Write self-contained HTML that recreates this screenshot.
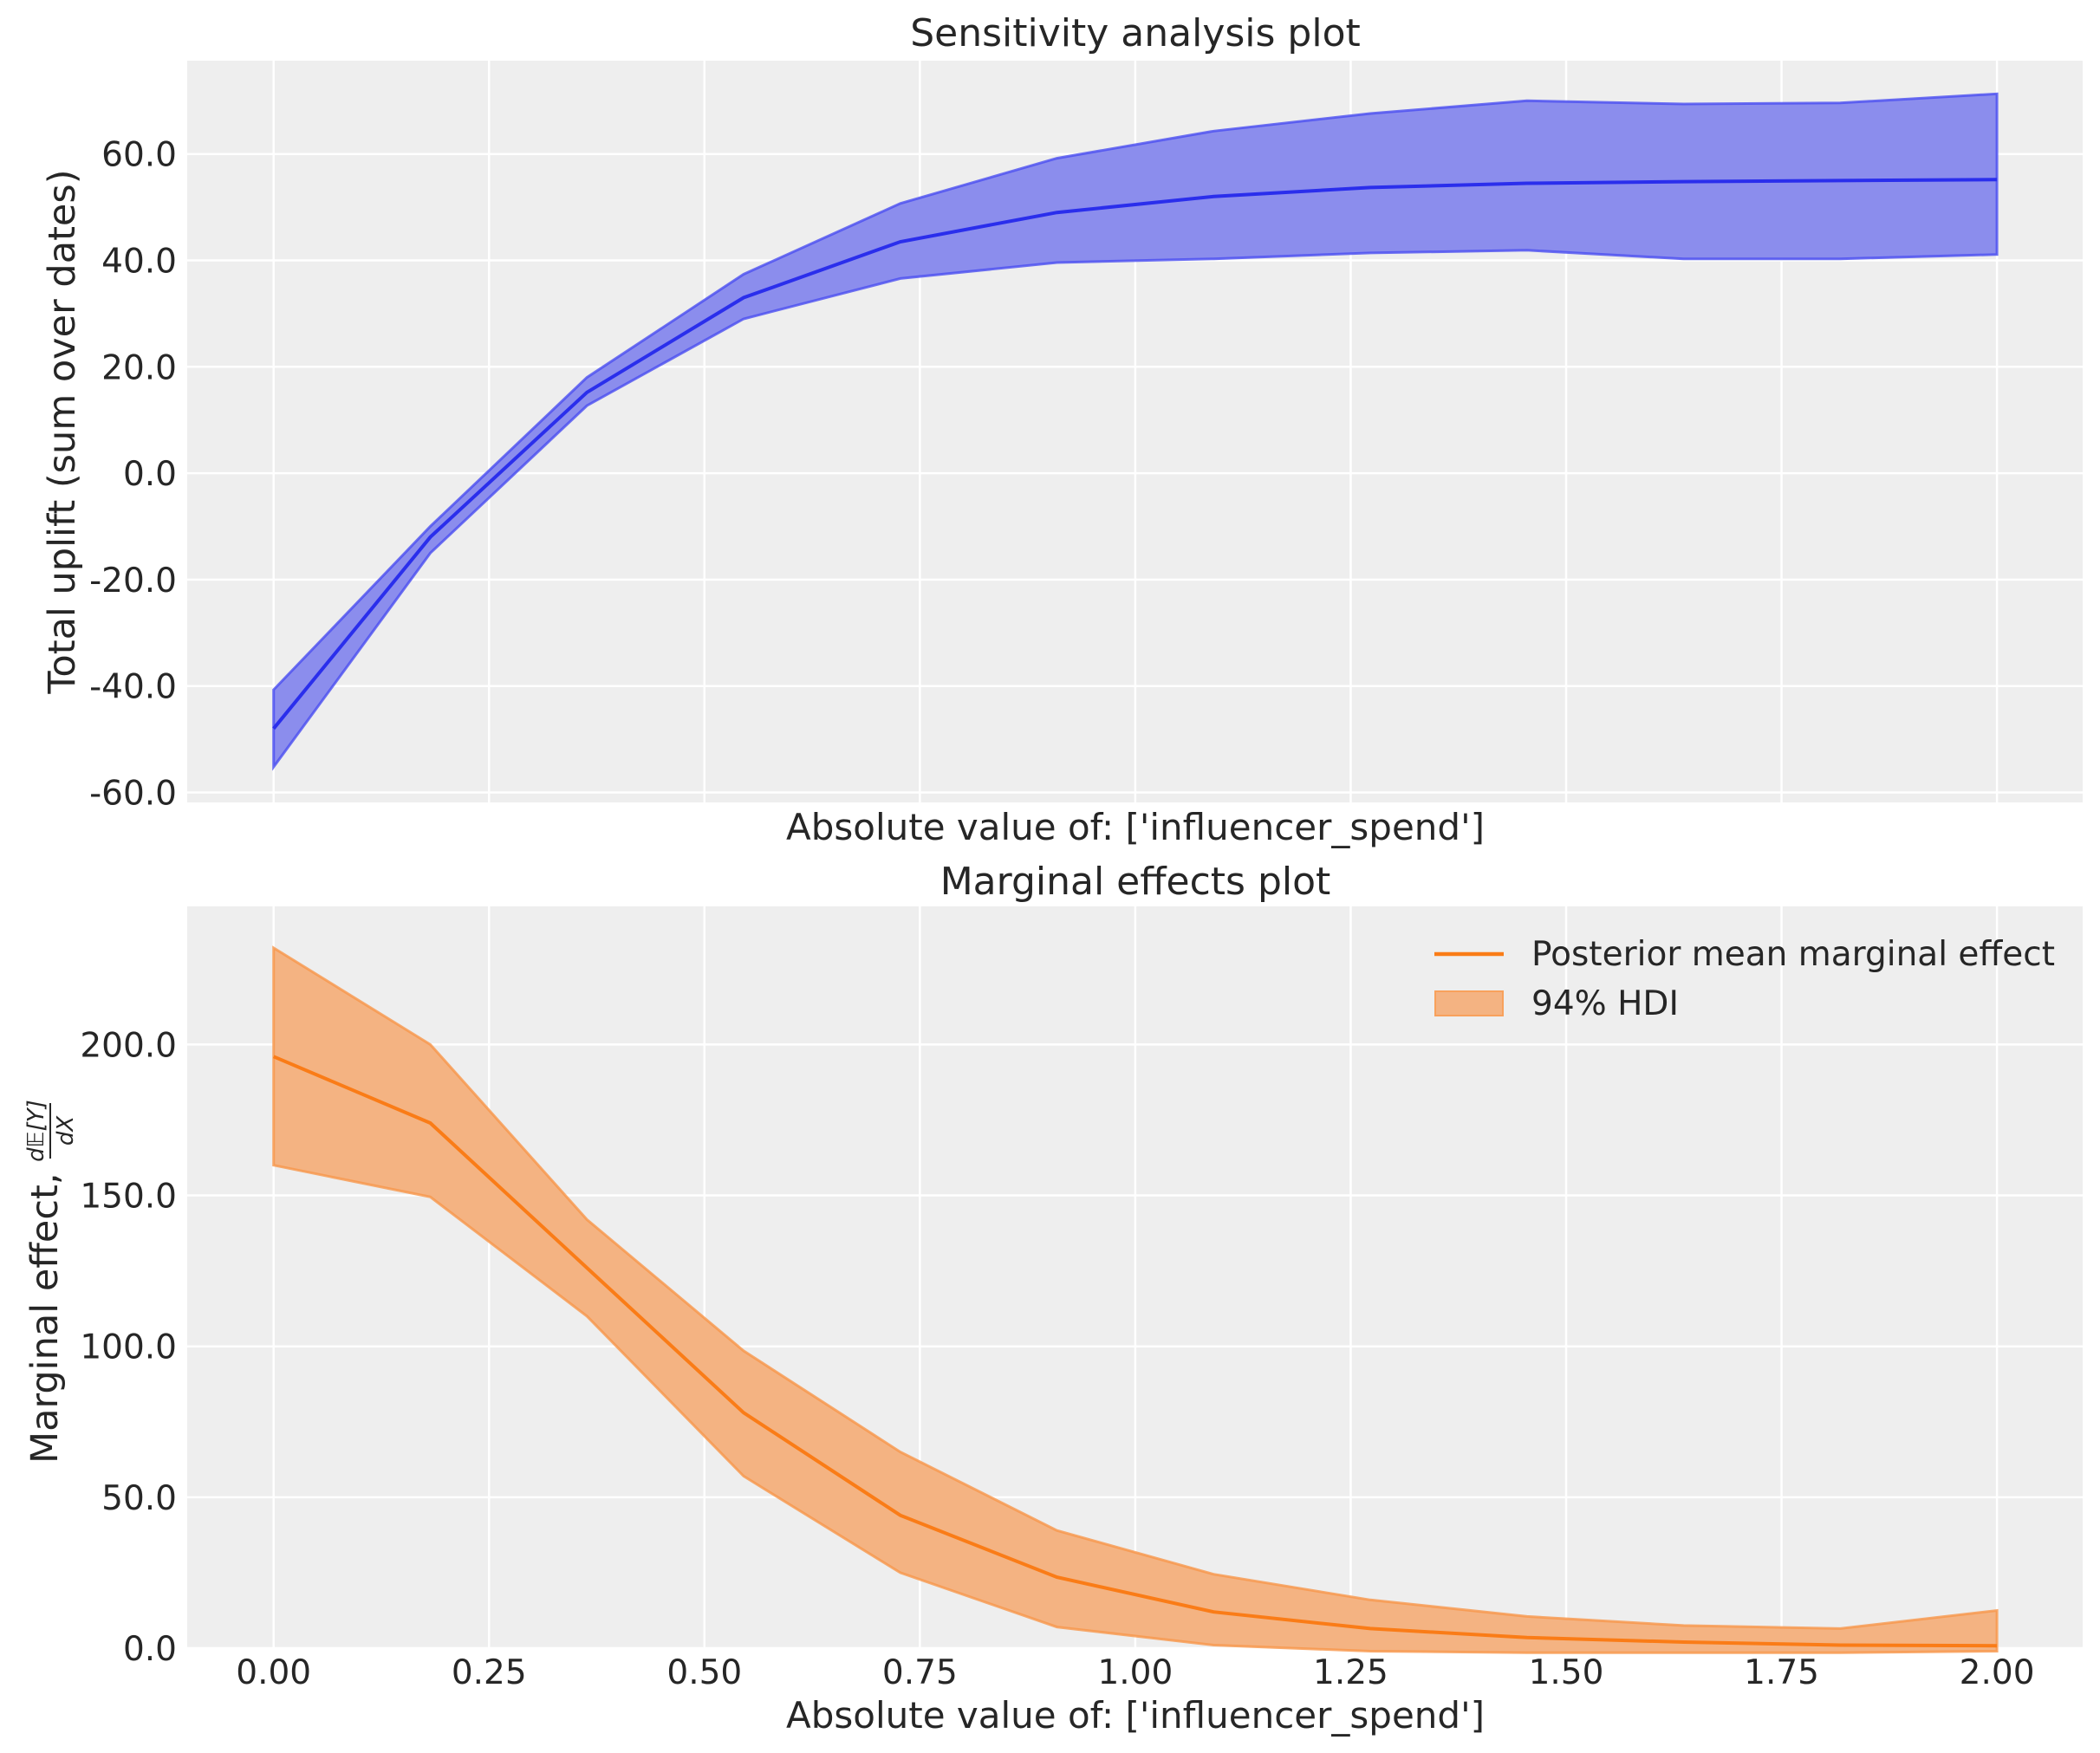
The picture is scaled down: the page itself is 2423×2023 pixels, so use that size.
<!DOCTYPE html>
<html><head><meta charset="utf-8"><style>
html,body{margin:0;padding:0;background:#fff;}
svg{display:block;font-family:"DejaVu Sans","Liberation Sans",sans-serif;}
</style></head><body>
<svg id="s" width="2423" height="2023" viewBox="0 0 2423 2023" xmlns="http://www.w3.org/2000/svg">
<rect x="216" y="70" width="2187" height="856" fill="#eeeeee"/>
<rect x="216" y="1046" width="2187" height="856" fill="#eeeeee"/>
<g id="grid" stroke="#ffffff" stroke-width="2.5"></g>
<g id="data"></g>
<g fill="#262626" font-size="39">
<text x="1310" y="53" text-anchor="middle" font-size="44">Sensitivity analysis plot</text>
<text x="1310" y="1032" text-anchor="middle" font-size="44">Marginal effects plot</text>
<text x="1310" y="969" text-anchor="middle" font-size="42">Absolute value of: ['influencer_spend']</text>
<text x="1310" y="1994" text-anchor="middle" font-size="42">Absolute value of: ['influencer_spend']</text>
<text transform="translate(86,498) rotate(-90)" text-anchor="middle" font-size="43">Total uplift (sum over dates)</text>
<g transform="translate(66,1483) rotate(-90)">
<text x="-206" y="0" font-size="43">Marginal effect,</text>
<text x="178" y="-16" text-anchor="middle" font-size="26" font-style="italic">d𝔼[Y]</text>
<line x1="146" y1="-8" x2="210" y2="-8" stroke="#262626" stroke-width="2"/>
<text x="178" y="18" text-anchor="middle" font-size="26" font-style="italic">dX</text>
</g>
<g id="yt1" text-anchor="end"></g>
<g id="yt2" text-anchor="end"></g>
<g id="xt" text-anchor="middle"></g>
<line x1="1655" y1="1101" x2="1735" y2="1101" stroke="#fa7c17" stroke-width="4.5"/>
<rect x="1656" y="1144" width="78" height="28" fill="#f4b382" stroke="#f8a15c" stroke-width="2"/>
<text x="1767" y="1114" font-size="39">Posterior mean marginal effect</text>
<text x="1767" y="1171" font-size="39">94% HDI</text>
</g>
</svg>
<script>
var NS="http://www.w3.org/2000/svg";
function el(p,t,a,txt){var e=document.createElementNS(NS,t);for(var k in a)e.setAttribute(k,a[k]);if(txt!==undefined)e.textContent=txt;document.getElementById(p).appendChild(e);return e;}
function X(v){return 315.7+v*994.2;}
function Y1(v){return 177.7+(60-v)*6.14;}
function Y2(v){return 1902-v*3.483;}
for(var i=0;i<=8;i++){var x=X(i*0.25);
 el('grid','line',{x1:x,y1:70,x2:x,y2:926});el('grid','line',{x1:x,y1:1046,x2:x,y2:1902});
 el('xt','text',{x:x,y:1943},(i*0.25).toFixed(2));}
for(var v=-60;v<=60;v+=20){var y=Y1(v);el('grid','line',{x1:216,y1:y,x2:2403,y2:y});el('yt1','text',{x:204,y:y+14},v.toFixed(1));}
for(var v=0;v<=200;v+=50){var y=Y2(v);el('grid','line',{x1:216,y1:y,x2:2403,y2:y});el('yt2','text',{x:204,y:y+14},v.toFixed(1));}
var m1=[-48,-12,15.2,33,43.5,49,52,53.7,54.5,54.8,55,55.2];
var u1=[-40.7,-10,18,37.4,50.7,59.2,64.3,67.6,70,69.4,69.6,71.3];
var l1=[-55.2,-15,12.7,29,36.6,39.6,40.3,41.4,41.9,40.3,40.3,41.1];
var m2=[196,174,126,78,44,23.5,12,6.5,3.5,2,1,0.8];
var u2=[232,200,142,98.5,65,39,24.5,16,10.5,7.5,6.5,12.5];
var l2=[160,149.5,110,57,25,7,1,-1,-1.5,-1.5,-1.5,-1];
function pts(a,F){return a.map(function(v,i){return X(i*2/11).toFixed(1)+','+F(v).toFixed(1);});}
function band(u,l,F,fill,st){var p=pts(u,F).concat(pts(l,F).reverse());el('data','polygon',{points:p.join(' '),fill:fill,stroke:st,'stroke-width':3,'stroke-opacity':0.8});}
band(u1,l1,Y1,'#8b8ded','#4a4df0');
el('data','polyline',{points:pts(m1,Y1).join(' '),fill:'none',stroke:'#2a2eec','stroke-width':4});
band(u2,l2,Y2,'#f4b382','#f8964a');
el('data','polyline',{points:pts(m2,Y2).join(' '),fill:'none',stroke:'#fa7c17','stroke-width':4});
</script>
</body></html>
